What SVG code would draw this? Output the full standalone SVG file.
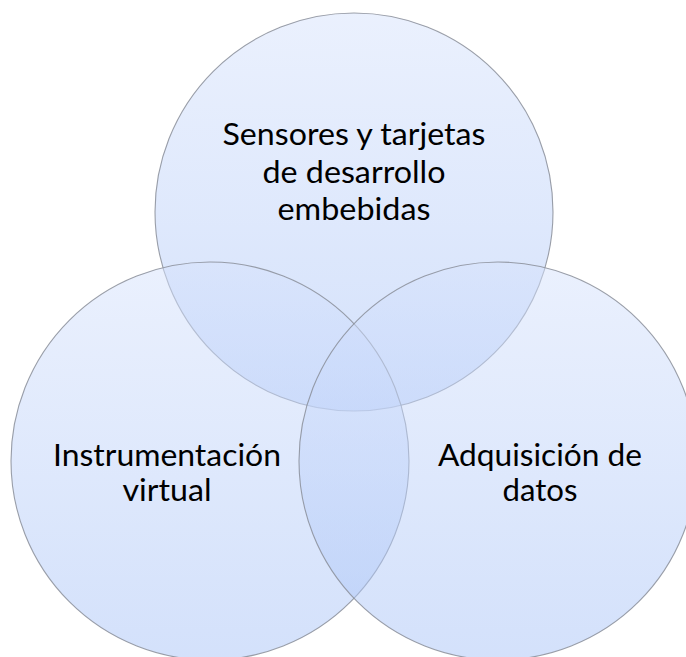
<svg xmlns="http://www.w3.org/2000/svg" width="686" height="657" viewBox="0 0 686 657">
<defs>
<linearGradient id="g" x1="0" y1="0" x2="0" y2="1">
<stop offset="0" stop-color="#d6e2fc"/>
<stop offset="1" stop-color="#a8c3f7"/>
</linearGradient>
</defs>
<style>
.c{fill:url(#g);fill-opacity:0.5;stroke:#8a8e99;stroke-width:1.1;stroke-opacity:0.85}
.t{font-family:Lato,"Open Sans","Liberation Sans",sans-serif;font-size:30.5px;fill:#000;text-anchor:middle}
</style>
<rect width="686" height="657" fill="#fff"/>
<g id="node-sensores">
<circle class="c" cx="354" cy="212" r="199"/>
</g>
<g id="node-instrumentacion">
<circle class="c" cx="210" cy="461" r="199"/>
</g>
<g id="node-adquisicion">
<circle class="c" cx="498" cy="461" r="199"/>
</g>
<g id="connectors"></g>
<g id="labels">
<text class="t" x="354" y="145" textLength="263" lengthAdjust="spacingAndGlyphs">Sensores y tarjetas</text>
<text class="t" x="354" y="183" textLength="183" lengthAdjust="spacingAndGlyphs">de desarrollo</text>
<text class="t" x="354" y="220" textLength="153" lengthAdjust="spacingAndGlyphs">embebidas</text>
<text class="t" x="167" y="466" textLength="228" lengthAdjust="spacingAndGlyphs">Instrumentación</text>
<text class="t" x="167" y="501" textLength="89" lengthAdjust="spacingAndGlyphs">virtual</text>
<text class="t" x="540" y="466" textLength="204" lengthAdjust="spacingAndGlyphs">Adquisición de</text>
<text class="t" x="540" y="501" textLength="75" lengthAdjust="spacingAndGlyphs">datos</text>
</g>
</svg>
